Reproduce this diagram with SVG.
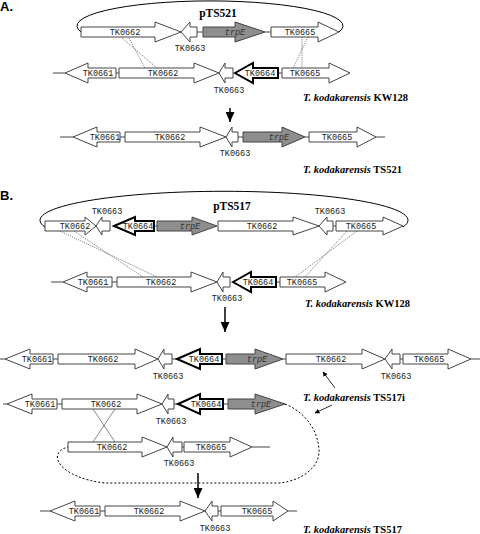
<svg xmlns="http://www.w3.org/2000/svg" width="480" height="534" viewBox="0 0 480 534">
<defs>
<marker id="ah" viewBox="0 0 10 10" refX="9" refY="5" markerWidth="5" markerHeight="5" orient="auto" markerUnits="userSpaceOnUse">
<path d="M0,0 L10,5 L0,10 z" fill="#000"/>
</marker>
<marker id="big" viewBox="0 0 10 10" refX="10" refY="5" markerWidth="10" markerHeight="9" orient="auto" markerUnits="userSpaceOnUse" preserveAspectRatio="none">
<path d="M0,0 L10,5 L0,10 z" fill="#000"/>
</marker>
</defs>
<style>
.g{fill:#fff;stroke:#444;stroke-width:1}
.t{fill:#fff;stroke:#000;stroke-width:2}
.p{fill:#8e8e8e;stroke:#444;stroke-width:1}
.ln{stroke:#444;stroke-width:1;fill:none}
.dl{stroke:#666;stroke-width:0.8;stroke-dasharray:1.2 1;fill:none}
.xl{stroke:#555;stroke-width:0.7;fill:none}
.cv{stroke:#000;stroke-width:1;fill:none}
.dc{stroke:#000;stroke-width:1;stroke-dasharray:2 2;fill:none}
.m{font-family:"Liberation Mono",monospace;font-size:8.5px;fill:#222;text-anchor:middle}
.mi{font-family:"Liberation Mono",monospace;font-size:8.5px;fill:#333;font-style:italic;text-anchor:middle}
.s{font-family:"Liberation Serif",serif;font-size:10.5px;font-weight:bold;fill:#000}
.pl{font-family:"Liberation Serif",serif;font-size:11.5px;font-weight:bold;fill:#000;text-anchor:middle}
.h{font-family:"Liberation Sans",sans-serif;font-size:13px;font-weight:bold;fill:#000}
.ar{stroke:#000;stroke-width:1.5;fill:none}
.sa{stroke:#000;stroke-width:0.8;fill:none}
</style>

<text class="h" x="0" y="11">A.</text>
<text class="h" x="0" y="200">B.</text>

<g id="connectors">
<!-- plasmid circles -->
<path class="cv" d="M81,32 A133 25 0 1 1 339,32"/>
<path class="cv" d="M45,227 A184 29 0 1 1 403,227"/>
<!-- backbone lines -->
<path class="ln" d="M197,32H203M265,32H271"/>
<path class="ln" d="M53,73H65M116,73H119M278,73H282"/>
<path class="ln" d="M60,137H73M120,137H125M238,137H243M305,137H309M376,137H385"/>
<path class="ln" d="M154,226H157M333,226H336"/>
<path class="ln" d="M51,282H63M112,282H117M276,282H280"/>
<path class="ln" d="M0,359H5M53,359H58M172,359H177M222,359H226M283,359H286M400,359H403M471,359H480"/>
<path class="ln" d="M3,404H7M57,404H62M174,404H178M223,404H228"/>
<path class="ln" d="M182,447H184M252,447H270"/>
<path class="ln" d="M40,511H50M100,511H105M218,511H221M288,511H297"/>
<!-- homologous crossovers -->
<path class="dl" d="M122,38L157,68M129,38L145,68"/>
<path class="dl" d="M302,37L302,68M308,37L293,68"/>
<path class="dl" d="M60,231L157,277M74,231L143,277"/>
<path class="dl" d="M347,231L305,277M357,231L295,277"/>
<path class="xl" d="M93,409L115,442M115,409L93,442"/>
<!-- dotted loop -->
<path class="dc" d="M285,404 C305,412 318,430 319,450 C320,465 305,480 280,483 L105,483 C60,478 45,453 68,447"/>
<!-- process arrows -->
<path class="ar" d="M230,108V122" marker-end="url(#big)"/>
<path class="ar" d="M225,307V332" marker-end="url(#big)"/>
<path class="ar" d="M198,473V498" marker-end="url(#big)"/>
<path class="sa" d="M335,388L323,372" marker-end="url(#ah)"/>
<path class="sa" d="M332,405L315,413" marker-end="url(#ah)"/>
</g>

<!-- Row A1: pTS521 -->
<g id="a1-tk0662"><polygon class="g" points="81,27 155,27 155,22 181,32 155,42 155,37 81,37"/><text class="m" x="125" y="35">TK0662</text></g>
<g id="a1-tk0663"><polygon class="g" points="181,32 190,22 190,27 197,27 197,37 190,37 190,42"/><text class="m" x="190" y="51">TK0663</text></g>
<g id="a1-trpe"><polygon class="p" points="203,27 235,27 235,22 265,32 235,42 235,37 203,37"/><text class="mi" x="235" y="35">trpE</text></g>
<g id="a1-tk0665"><polygon class="g" points="271,27 318,27 318,22 339,32 318,42 318,37 271,37"/><text class="m" x="300" y="35">TK0665</text></g>
<text class="pl" x="218" y="17">pTS521</text>

<!-- Row A2: KW128 -->
<g id="a2-tk0661"><polygon class="g" points="65,73 88,63 88,68 116,68 116,78 88,78 88,83"/><text class="m" x="98" y="76">TK0661</text></g>
<g id="a2-tk0662"><polygon class="g" points="119,68 194,68 194,63 219,73 194,83 194,78 119,78"/><text class="m" x="163" y="76">TK0662</text></g>
<g id="a2-tk0663"><polygon class="g" points="219,73 225,63 225,68 233,68 233,78 225,78 225,83"/><text class="m" x="229" y="93">TK0663</text></g>
<g id="a2-tk0664"><polygon class="t" points="235,73 253,63 253,68 278,68 278,78 253,78 253,83"/><text class="m" x="260" y="76">TK0664</text></g>
<g id="a2-tk0665"><polygon class="g" points="282,68 329,68 329,63 350,73 329,83 329,78 282,78"/><text class="m" x="305" y="76">TK0665</text></g>
<text class="s" x="303" y="101"><tspan font-style="italic">T. kodakarensis</tspan> KW128</text>

<!-- Row A3: TS521 -->
<g id="a3-tk0661"><polygon class="g" points="73,137 97,127 97,132 120,132 120,142 97,142 97,147"/><text class="m" x="105" y="140">TK0661</text></g>
<g id="a3-tk0662"><polygon class="g" points="125,132 200,132 200,127 226,137 200,147 200,142 125,142"/><text class="m" x="170" y="140">TK0662</text></g>
<g id="a3-tk0663"><polygon class="g" points="226,137 232,127 232,132 238,132 238,142 232,142 232,147"/><text class="m" x="235" y="156">TK0663</text></g>
<g id="a3-trpe"><polygon class="p" points="243,132 282,132 282,127 305,137 282,147 282,142 243,142"/><text class="mi" x="279" y="140">trpE</text></g>
<g id="a3-tk0665"><polygon class="g" points="309,132 357,132 357,127 376,137 357,147 357,142 309,142"/><text class="m" x="337" y="140">TK0665</text></g>
<text class="s" x="303" y="173"><tspan font-style="italic">T. kodakarensis</tspan> TS521</text>

<!-- Row B1: pTS517 -->
<g id="b1-tk0662a"><polygon class="g" points="45,221 85,221 85,217 96,226 85,235 85,231 45,231"/><text class="m" x="75" y="229">TK0662</text></g>
<g id="b1-tk0663a"><polygon class="g" points="96,226 102,217 102,221 110,221 110,231 102,231 102,235"/><text class="m" x="107" y="214">TK0663</text></g>
<g id="b1-tk0664"><polygon class="t" points="114,226 135,217 135,221 154,221 154,231 135,231 135,235"/><text class="m" x="138" y="229">TK0664</text></g>
<g id="b1-trpe"><polygon class="p" points="157,221 192,221 192,217 217,226 192,235 192,231 157,231"/><text class="mi" x="190" y="229">trpE</text></g>
<g id="b1-tk0662b"><polygon class="g" points="218,221 293,221 293,217 319,226 293,235 293,231 218,231"/><text class="m" x="262" y="229">TK0662</text></g>
<g id="b1-tk0663b"><polygon class="g" points="319,226 327,217 327,221 333,221 333,231 327,231 327,235"/><text class="m" x="330" y="214">TK0663</text></g>
<g id="b1-tk0665"><polygon class="g" points="336,221 383,221 383,217 403,226 383,235 383,231 336,231"/><text class="m" x="361" y="229">TK0665</text></g>
<text class="pl" x="232" y="210">pTS517</text>

<!-- Row B2: KW128 -->
<g id="b2-tk0661"><polygon class="g" points="63,282 87,272 87,277 112,277 112,287 87,287 87,292"/><text class="m" x="93" y="285">TK0661</text></g>
<g id="b2-tk0662"><polygon class="g" points="117,277 191,277 191,272 217,282 191,292 191,287 117,287"/><text class="m" x="161" y="285">TK0662</text></g>
<g id="b2-tk0663"><polygon class="g" points="217,282 223,272 223,277 230,277 230,287 223,287 223,292"/><text class="m" x="227" y="301">TK0663</text></g>
<g id="b2-tk0664"><polygon class="t" points="233,282 251,272 251,277 276,277 276,287 251,287 251,292"/><text class="m" x="258" y="285">TK0664</text></g>
<g id="b2-tk0665"><polygon class="g" points="280,277 325,277 325,272 346,282 325,292 325,287 280,287"/><text class="m" x="302" y="285">TK0665</text></g>
<text class="s" x="305" y="307"><tspan font-style="italic">T. kodakarensis</tspan> KW128</text>

<!-- Row B3: TS517i -->
<g id="b3-tk0661"><polygon class="g" points="5,359 30,349 30,354 53,354 53,364 30,364 30,369"/><text class="m" x="37" y="362">TK0661</text></g>
<g id="b3-tk0662a"><polygon class="g" points="58,354 135,354 135,349 158,359 135,369 135,364 58,364"/><text class="m" x="103" y="362">TK0662</text></g>
<g id="b3-tk0663a"><polygon class="g" points="158,359 164,349 164,354 172,354 172,364 164,364 164,369"/><text class="m" x="168" y="379">TK0663</text></g>
<g id="b3-tk0664"><polygon class="t" points="177,359 200,349 200,354 222,354 222,364 200,364 200,369"/><text class="m" x="204" y="362">TK0664</text></g>
<g id="b3-trpe"><polygon class="p" points="226,354 255,354 255,349 283,359 255,369 255,364 226,364"/><text class="mi" x="257" y="362">trpE</text></g>
<g id="b3-tk0662b"><polygon class="g" points="286,354 362,354 362,349 385,359 362,369 362,364 286,364"/><text class="m" x="331" y="362">TK0662</text></g>
<g id="b3-tk0663b"><polygon class="g" points="385,359 392,349 392,354 400,354 400,364 392,364 392,369"/><text class="m" x="396" y="379">TK0663</text></g>
<g id="b3-tk0665"><polygon class="g" points="403,354 448,354 448,349 471,359 448,369 448,364 403,364"/><text class="m" x="429" y="362">TK0665</text></g>
<text class="s" x="303" y="401"><tspan font-style="italic">T. kodakarensis</tspan> TS517i</text>

<!-- Row B4 -->
<g id="b4-tk0661"><polygon class="g" points="7,404 32,394 32,399 57,399 57,409 32,409 32,414"/><text class="m" x="40" y="407">TK0661</text></g>
<g id="b4-tk0662"><polygon class="g" points="62,399 137,399 137,394 162,404 137,414 137,409 62,409"/><text class="m" x="106" y="407">TK0662</text></g>
<g id="b4-tk0663"><polygon class="g" points="162,404 168,394 168,399 174,399 174,409 168,409 168,414"/><text class="m" x="171" y="424">TK0663</text></g>
<g id="b4-tk0664"><polygon class="t" points="178,404 200,394 200,399 223,399 223,409 200,409 200,414"/><text class="m" x="206" y="407">TK0664</text></g>
<g id="b4-trpe"><polygon class="p" points="228,399 255,399 255,394 285,404 255,414 255,409 228,409"/><text class="mi" x="261" y="407">trpE</text></g>

<!-- Row B5 -->
<g id="b5-tk0662"><polygon class="g" points="68,442 142,442 142,437 167,447 142,457 142,452 68,452"/><text class="m" x="112" y="450">TK0662</text></g>
<g id="b5-tk0663"><polygon class="g" points="167,447 173,437 173,442 182,442 182,452 173,452 173,457"/><text class="m" x="179" y="466">TK0663</text></g>
<g id="b5-tk0665"><polygon class="g" points="184,442 230,442 230,437 252,447 230,457 230,452 184,452"/><text class="m" x="211" y="450">TK0665</text></g>

<!-- Row B6: TS517 -->
<g id="b6-tk0661"><polygon class="g" points="50,511 75,501 75,506 100,506 100,516 75,516 75,521"/><text class="m" x="84" y="514">TK0661</text></g>
<g id="b6-tk0662"><polygon class="g" points="105,506 180,506 180,501 205,511 180,521 180,516 105,516"/><text class="m" x="149" y="514">TK0662</text></g>
<g id="b6-tk0663"><polygon class="g" points="205,511 212,501 212,506 218,506 218,516 212,516 212,521"/><text class="m" x="215" y="531">TK0663</text></g>
<g id="b6-tk0665"><polygon class="g" points="221,506 273,506 273,501 288,511 273,521 273,516 221,516"/><text class="m" x="257" y="514">TK0665</text></g>
<text class="s" x="303" y="533"><tspan font-style="italic">T. kodakarensis</tspan> TS517</text>
</svg>
